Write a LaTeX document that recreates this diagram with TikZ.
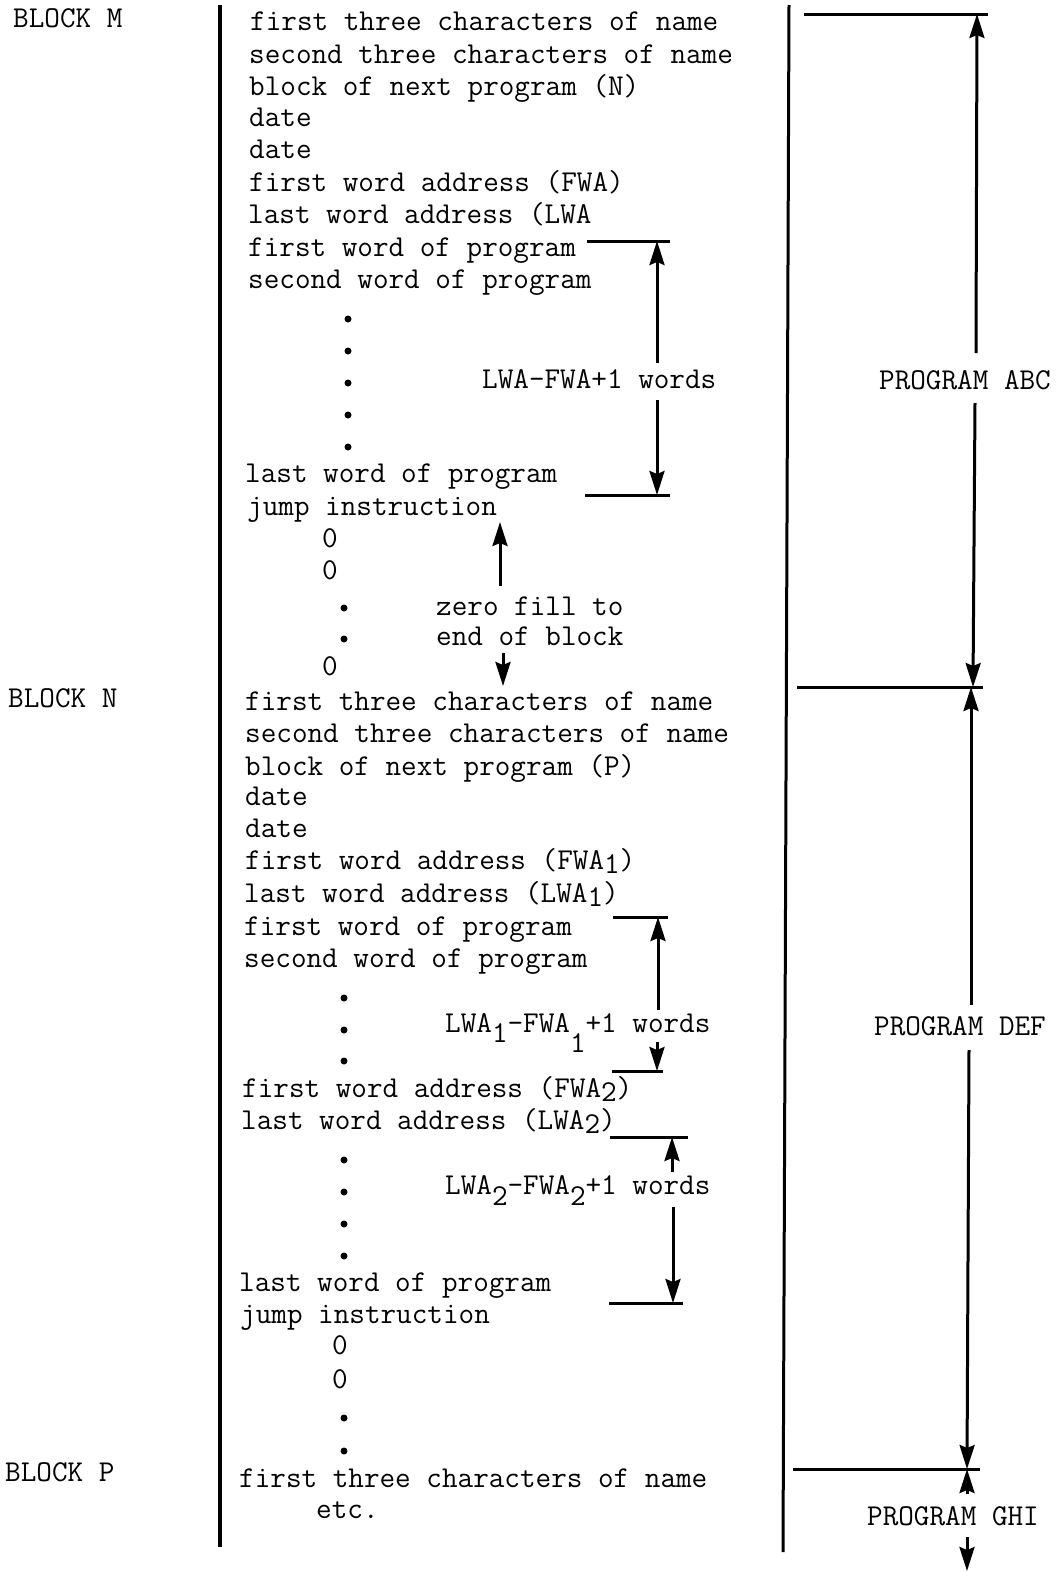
\documentclass[tikz,border=0pt]{standalone}
\usetikzlibrary{arrows.meta}
\newcommand{\lowered}[2]{\raisebox{#1}[0pt][0pt]{#2}}
\begin{document}
\begin{tikzpicture}[x=1pt,y=-1pt,
  txt/.style={anchor=mid west,inner sep=0pt,yshift=-6pt,font=\fontsize{30.3}{32}\selectfont\ttfamily},
  ctr/.style={anchor=mid,inner sep=0pt,yshift=-6pt,font=\fontsize{30.3}{32}\selectfont\ttfamily},
  dot/.style={circle,fill=black,inner sep=0pt,minimum size=7pt},
  rule/.style={line width=3pt},
  arr/.style={line width=3pt,-{Stealth[length=24pt,width=15pt,inset=3pt]}},
]
\useasboundingbox (0,0) rectangle (1057,1572);

% column rules
\coordinate (lt) at (220,5);
\coordinate (lb) at (220,1547);
\coordinate (rt) at (789,5);
\coordinate (rb) at (783,1552);
\draw[line width=3.5pt] (lt) -- (lb);
\draw[line width=3pt] (rt) -- (rb);

% block labels
\node[txt] (bm) at (13,19) {BLOCK M};
\node[txt] (bn) at (8,699) {BLOCK N};
\node[txt] (bp) at (5,1473) {BLOCK P};

% block M
\node[txt] (m1) at (250,22) {first three characters of name};
\node[txt] (m2) at (249,55) {second three characters of name};
\node[txt] (m3) at (249,87) {block of next program (N)};
\node[txt] (m4) at (249,118) {date};
\node[txt] (m5) at (249,150) {date};
\node[txt] (m6) at (249,183) {first word address (FWA)};
\node[txt] (m7) at (248,215) {last word address (LWA};
\node[txt] (m8) at (248,248) {first word of program};
\node[txt] (m9) at (248,280) {second word of program};
\node[dot] (md1) at (348,319) {};
\node[dot] (md2) at (348,351) {};
\node[dot] (md3) at (348,383) {};
\node[dot] (md4) at (348,415) {};
\node[dot] (md5) at (348,447) {};
\node[txt] (m10) at (245,474) {last word of program};
\node[txt] (m11) at (247,507) {jump instruction};
\node[ctr] (mz1) at (330,539) {0};
\node[ctr] (mz2) at (330,571) {0};
\node[dot] (md6) at (344,608) {};
\node[dot] (md7) at (344,639) {};
\node[ctr] (mz3) at (330,667) {0};

% zero fill
\node[txt] (zf1) at (436,607) {zero fill to};
\node[txt] (zf2) at (436,637) {end of block};
\coordinate (zfa) at (500,586);
\coordinate (zft) at (500,522);
\coordinate (zfb) at (503,653);
\coordinate (zfe) at (503,686);
\draw[arr] (zfa) -- (zft);
\draw[arr] (zfb) -- (zfe);

% block N
\node[txt] (n1) at (245,702) {first three characters of name};
\node[txt] (n2) at (245,734) {second three characters of name};
\node[txt] (n3) at (245,767) {block of next program (P)};
\node[txt] (n4) at (245,797) {date};
\node[txt] (n5) at (245,829) {date};
\node[txt] (n6) at (245,861) {first word address (FWA\lowered{-4pt}{1})};
\node[txt] (n7) at (244,894) {last word address (LWA\lowered{-4pt}{1})};
\node[txt] (n8) at (244,927) {first word of program};
\node[txt] (n9) at (244,959) {second word of program};
\node[dot] (nd1) at (344,998) {};
\node[dot] (nd2) at (344,1030) {};
\node[dot] (nd3) at (344,1061) {};
\node[txt] (n10) at (242,1089) {first word address (FWA\lowered{-4pt}{2})};
\node[txt] (n11) at (241,1121) {last word address (LWA\lowered{-4pt}{2})};
\node[dot] (nd4) at (344,1160) {};
\node[dot] (nd5) at (344,1192) {};
\node[dot] (nd6) at (344,1224) {};
\node[dot] (nd7) at (344,1256) {};
\node[txt] (n12) at (239,1283) {last word of program};
\node[txt] (n13) at (240,1315) {jump instruction};
\node[ctr] (nz1) at (340,1346) {0};
\node[ctr] (nz2) at (340,1380) {0};
\node[dot] (nd8) at (344,1418) {};
\node[dot] (nd9) at (344,1451) {};

% block P
\node[txt] (p1) at (239,1479) {first three characters of name};
\node[txt] (p2) at (316,1510) {etc.};

% inner bracket 1
\node[txt] (lab1) at (482,380) {LWA-FWA+1 words};
\coordinate (b1tl) at (587,241);
\coordinate (b1tr) at (670,241);
\coordinate (b1t) at (657,241);
\coordinate (b1u) at (657,363);
\coordinate (b1d) at (657,400);
\coordinate (b1b) at (657,495);
\coordinate (b1bl) at (585,495);
\coordinate (b1br) at (670,495);
\draw[rule] (b1tl) -- (b1tr);
\draw[rule] (b1bl) -- (b1br);
\draw[arr] (b1u) -- (b1t);
\draw[arr] (b1d) -- (b1b);

% inner bracket 2
\node[txt] (lab2) at (445,1024) {LWA\lowered{-10pt}{1}-FWA\lowered{-20pt}{1}+1 words};
\coordinate (b2tl) at (613,917);
\coordinate (b2tr) at (668,917);
\coordinate (b2t) at (658,917);
\coordinate (b2u) at (658,1010);
\coordinate (b2d) at (657,1042);
\coordinate (b2b) at (657,1071);
\coordinate (b2bl) at (612,1071);
\coordinate (b2br) at (663,1071);
\draw[rule] (b2tl) -- (b2tr);
\draw[rule] (b2bl) -- (b2br);
\draw[arr] (b2u) -- (b2t);
\draw[arr] (b2d) -- (b2b);

% inner bracket 3
\node[txt] (lab3) at (445,1186) {LWA\lowered{-11pt}{2}-FWA\lowered{-11pt}{2}+1 words};
\coordinate (b3tl) at (610,1137);
\coordinate (b3tr) at (688,1137);
\coordinate (b3t) at (672,1137);
\coordinate (b3u) at (672,1172);
\coordinate (b3d) at (673,1207);
\coordinate (b3b) at (673,1303);
\coordinate (b3bl) at (609,1303);
\coordinate (b3br) at (683,1303);
\draw[rule] (b3tl) -- (b3tr);
\draw[rule] (b3bl) -- (b3br);
\draw[arr] (b3u) -- (b3t);
\draw[arr] (b3d) -- (b3b);

% program brackets
\node[ctr] (abc) at (965,381) {PROGRAM ABC};
\node[ctr] (def) at (960,1027) {PROGRAM DEF};
\node[ctr] (ghi) at (953,1517) {PROGRAM GHI};

\coordinate (r1l) at (804,14);
\coordinate (r1r) at (988,14);
\coordinate (r2l) at (797,687);
\coordinate (r2r) at (983,687);
\coordinate (r3l) at (793,1469);
\coordinate (r3r) at (980,1469);
\draw[rule] (r1l) -- (r1r);
\draw[rule] (r2l) -- (r2r);
\draw[rule] (r3l) -- (r3r);

\coordinate (abcU) at (976,353);
\coordinate (abcT) at (977,14);
\coordinate (abcD) at (975,403);
\coordinate (abcB) at (973,687);
\draw[arr] (abcU) -- (abcT);
\draw[arr] (abcD) -- (abcB);

\coordinate (defU) at (971,1005);
\coordinate (defT) at (971,687);
\coordinate (defD) at (969,1050);
\coordinate (defB) at (967,1469);
\draw[arr] (defU) -- (defT);
\draw[arr] (defD) -- (defB);

\coordinate (ghiU) at (967,1494);
\coordinate (ghiT) at (967,1469);
\coordinate (ghiD) at (967,1537);
\coordinate (ghiB) at (967,1571);
\draw[arr] (ghiU) -- (ghiT);
\draw[arr] (ghiD) -- (ghiB);
\end{tikzpicture}
\end{document}
